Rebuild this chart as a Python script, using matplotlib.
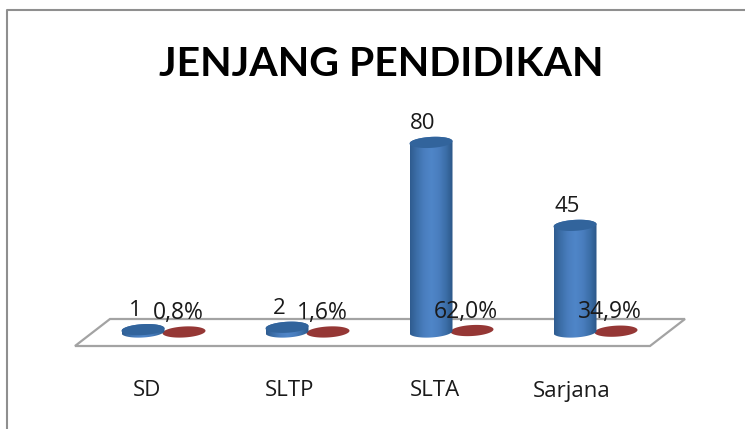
import numpy as np
import matplotlib
matplotlib.use("Agg")
import matplotlib.pyplot as plt
from matplotlib.colors import LinearSegmentedColormap
from matplotlib.patches import Polygon
from matplotlib.transforms import Affine2D

categories = ["SD", "SLTP", "SLTA", "Sarjana"]
counts = [1, 2, 80, 45]
shares = [0.8, 1.6, 62.0, 34.9]
share_labels = ["0,8%", "1,6%", "62,0%", "34,9%"]
title = "JENJANG PENDIDIKAN"

W, H = 745, 429
fig = plt.figure(figsize=(W / 100, H / 100), dpi=100, facecolor="white")
ax = fig.add_axes([0, 0, 1, 1])
ax.axis("off")
PX_X, PX_Y = 144.0, 2.37   # pixels per category / per unit
X0, Y0 = 143.0, 332.0      # pixel of first category, of value zero
xlim = (-X0 / PX_X, (W - X0) / PX_X)
ylim = (-(H - Y0) / PX_Y, Y0 / PX_Y)
ax.set_xlim(*xlim)
ax.set_ylim(*ylim)

to_px = Affine2D().scale(1, -1).translate(0, H)   # top-left pixel coords

# Outer chart border and floor
ax.add_line(plt.Line2D([7, 7, W], [H, 10, 10], transform=to_px, color="#8f8f8f", lw=1.5))
floor = Polygon([(75, 346), (110, 319), (685, 319), (650, 346)], closed=True,
                transform=to_px, facecolor="white", edgecolor="#a3a3a3", lw=1.6, zorder=1)
ax.add_patch(floor)

A = 21.5 / PX_X     # half width, category units
B = 5.5 / PX_Y      # half height, value units
K = 1.2 / PX_Y      # tilt across half width
RED_OFF = 41 / PX_X

def ellipse(c, v, t):
    return np.c_[c + A * np.cos(t), v + B * np.sin(t) + K * np.cos(t)]

blue = LinearSegmentedColormap.from_list(
    "b", ["#2f5c90", "#3d70aa", "#4a7ebf", "#4f86c8", "#4a7ebf", "#3d70aa", "#2c5788"])
grad = np.linspace(0, 1, 64).reshape(1, -1)
label_shift = [4, 3, 4, -3]

for i, (n, s) in enumerate(zip(counts, shares)):
    rv = s / 100
    ax.add_patch(Polygon(ellipse(i + RED_OFF, rv, np.linspace(0, 2 * np.pi, 80)),
                         closed=True, facecolor="#953735", edgecolor="none", zorder=2))
    body = np.r_[ellipse(i, 0, np.linspace(np.pi, 2 * np.pi, 50)),
                 ellipse(i, n, np.linspace(0, np.pi, 50))]
    im = ax.imshow(grad, cmap=blue, aspect="auto", zorder=3, interpolation="bilinear",
                   extent=(i - A, i + A, -B - K, n + B + K))
    im.set_clip_path(Polygon(body, closed=True, transform=ax.transData))
    ax.add_patch(Polygon(ellipse(i, n, np.linspace(0, 2 * np.pi, 80)), closed=True,
                         facecolor="#32649c", edgecolor="none", zorder=4))
    ax.annotate(str(n), (i, n), xytext=(-8, 19), textcoords="offset pixels",
                ha="center", va="center", fontsize=16, family="Open Sans",
                color="#1a1a1a", zorder=6)
    ax.annotate(share_labels[i], (i + RED_OFF, rv), xytext=(-6, 19), textcoords="offset pixels",
                ha="center", va="center", fontsize=16.5, family="Open Sans",
                color="#1a1a1a", zorder=6)
    ax.annotate(categories[i], (i, 0), xytext=(label_shift[i], -59), textcoords="offset pixels",
                ha="center", va="center", fontsize=16, family="Open Sans",
                color="#1a1a1a", zorder=6)

ax.set_xlim(*xlim)
ax.set_ylim(*ylim)
ax.text(381, 64, title, transform=to_px, ha="center", va="center", fontsize=29.5,
        fontweight="bold", family="Lato", color="black")
fig.savefig("out.png", dpi=100)
